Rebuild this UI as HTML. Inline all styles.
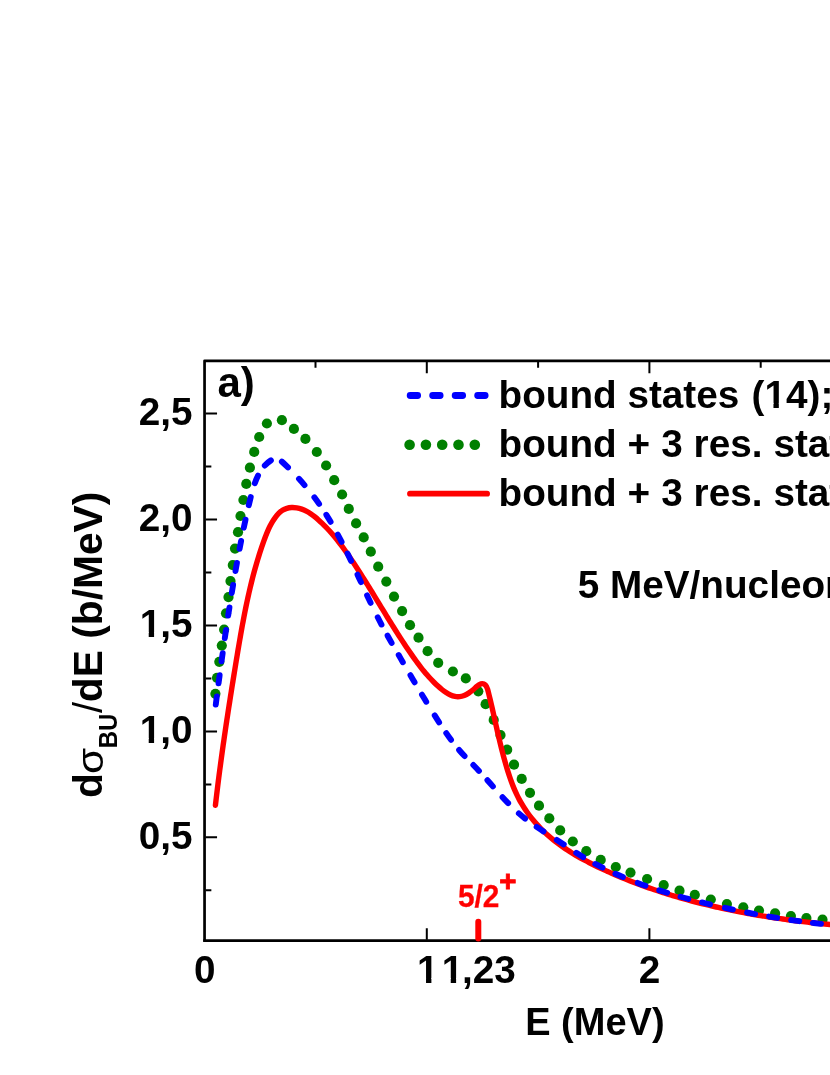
<!DOCTYPE html>
<html><head><meta charset="utf-8"><title>chart</title>
<style>html,body{margin:0;padding:0;background:#fff;}body{width:830px;height:1075px;overflow:hidden;font-family:"Liberation Sans",sans-serif;}svg{display:block;}</style></head>
<body>
<svg width="830" height="1075" viewBox="0 0 830 1075">
<rect width="830" height="1075" fill="#fff"/>
<g fill="none" stroke-linecap="round" stroke-linejoin="round">
<g fill="#008000" stroke="none"><circle cx="215.4" cy="693.8" r="5.1"/><circle cx="217.0" cy="677.8" r="5.1"/><circle cx="219.3" cy="661.8" r="5.1"/><circle cx="221.8" cy="645.6" r="5.1"/><circle cx="224.1" cy="629.6" r="5.1"/><circle cx="226.0" cy="613.3" r="5.1"/><circle cx="228.5" cy="597.1" r="5.1"/><circle cx="230.5" cy="581.1" r="5.1"/><circle cx="232.8" cy="565.1" r="5.1"/><circle cx="235.0" cy="548.6" r="5.1"/><circle cx="238.0" cy="532.2" r="5.1"/><circle cx="240.5" cy="516.0" r="5.1"/><circle cx="243.4" cy="500.0" r="5.1"/><circle cx="246.3" cy="483.9" r="5.1"/><circle cx="249.9" cy="467.7" r="5.1"/><circle cx="254.2" cy="451.9" r="5.1"/><circle cx="259.2" cy="437.0" r="5.1"/><circle cx="266.9" cy="423.5" r="5.1"/><circle cx="281.9" cy="420.2" r="5.1"/><circle cx="293.9" cy="428.9" r="5.1"/><circle cx="305.4" cy="438.9" r="5.1"/><circle cx="316.8" cy="452.0" r="5.1"/><circle cx="326.1" cy="465.5" r="5.1"/><circle cx="334.2" cy="480.2" r="5.1"/><circle cx="342.1" cy="494.5" r="5.1"/><circle cx="348.8" cy="508.9" r="5.1"/><circle cx="356.1" cy="523.4" r="5.1"/><circle cx="363.7" cy="537.4" r="5.1"/><circle cx="370.8" cy="551.7" r="5.1"/><circle cx="378.2" cy="566.7" r="5.1"/><circle cx="386.3" cy="581.6" r="5.1"/><circle cx="394.0" cy="596.6" r="5.1"/><circle cx="402.1" cy="611.1" r="5.1"/><circle cx="410.0" cy="625.2" r="5.1"/><circle cx="418.5" cy="637.7" r="5.1"/><circle cx="427.6" cy="651.2" r="5.1"/><circle cx="438.2" cy="662.8" r="5.1"/><circle cx="452.9" cy="671.5" r="5.1"/><circle cx="465.8" cy="678.4" r="5.1"/><circle cx="478.3" cy="691.3" r="5.1"/><circle cx="485.6" cy="704.2" r="5.1"/><circle cx="493.7" cy="719.9" r="5.1"/><circle cx="500.5" cy="735.1" r="5.1"/><circle cx="507.2" cy="749.7" r="5.1"/><circle cx="514.0" cy="764.7" r="5.1"/><circle cx="521.7" cy="778.9" r="5.1"/><circle cx="530.0" cy="792.8" r="5.1"/><circle cx="539.0" cy="805.7" r="5.1"/><circle cx="549.3" cy="818.4" r="5.1"/><circle cx="560.2" cy="830.4" r="5.1"/><circle cx="572.8" cy="841.5" r="5.1"/><circle cx="586.3" cy="851.2" r="5.1"/><circle cx="600.7" cy="859.9" r="5.1"/><circle cx="615.8" cy="867.0" r="5.1"/><circle cx="630.5" cy="872.6" r="5.1"/><circle cx="647.1" cy="879.0" r="5.1"/><circle cx="663.7" cy="885.1" r="5.1"/><circle cx="679.5" cy="890.7" r="5.1"/><circle cx="694.8" cy="894.8" r="5.1"/><circle cx="710.8" cy="899.5" r="5.1"/><circle cx="726.9" cy="904.0" r="5.1"/><circle cx="743.3" cy="907.3" r="5.1"/><circle cx="759.0" cy="910.6" r="5.1"/><circle cx="775.1" cy="913.4" r="5.1"/><circle cx="790.9" cy="916.1" r="5.1"/><circle cx="806.4" cy="918.1" r="5.1"/><circle cx="822.5" cy="919.7" r="5.1"/></g>
<path d="M215.42,805.31 C215.61,803.64 215.81,801.98 216.00,800.32 C216.19,798.66 216.39,797.01 216.59,795.35 C216.78,793.69 216.98,792.03 217.19,790.37 C217.39,788.72 217.59,787.06 217.80,785.40 C218.00,783.75 218.21,782.09 218.42,780.43 C218.63,778.78 218.84,777.12 219.06,775.47 C219.27,773.81 219.48,772.16 219.70,770.51 C219.92,768.85 220.14,767.20 220.36,765.55 C220.58,763.89 220.80,762.24 221.03,760.59 C221.25,758.94 221.48,757.28 221.70,755.63 C221.93,753.98 222.16,752.33 222.39,750.68 C222.62,749.03 222.86,747.38 223.09,745.73 C223.32,744.08 223.56,742.43 223.80,740.78 C224.03,739.13 224.27,737.48 224.51,735.83 C224.75,734.18 224.99,732.53 225.24,730.88 C225.48,729.23 225.72,727.58 225.97,725.93 C226.21,724.29 226.46,722.64 226.71,720.99 C226.96,719.34 227.21,717.69 227.46,716.05 C227.71,714.40 227.96,712.75 228.21,711.10 C228.47,709.45 228.72,707.81 228.98,706.16 C229.23,704.51 229.49,702.86 229.75,701.22 C230.00,699.57 230.26,697.92 230.52,696.28 C230.78,694.63 231.04,692.98 231.31,691.33 C231.57,689.69 231.83,688.04 232.09,686.39 C232.36,684.74 232.62,683.10 232.89,681.45 C233.15,679.80 233.42,678.15 233.69,676.51 C233.96,674.86 234.22,673.21 234.49,671.56 C234.76,669.92 235.03,668.27 235.30,666.62 C235.57,664.97 235.84,663.33 236.11,661.68 C236.39,660.03 236.66,658.38 236.93,656.73 C237.20,655.08 237.48,653.43 237.75,651.79 C238.03,650.14 238.30,648.49 238.58,646.84 C238.86,645.19 239.14,643.54 239.42,641.90 C239.71,640.25 239.99,638.60 240.28,636.95 C240.56,635.31 240.85,633.66 241.15,632.02 C241.44,630.37 241.73,628.72 242.03,627.08 C242.33,625.44 242.64,623.79 242.94,622.15 C243.25,620.51 243.56,618.87 243.88,617.23 C244.19,615.59 244.51,613.95 244.84,612.31 C245.16,610.67 245.49,609.03 245.82,607.40 C246.16,605.76 246.50,604.13 246.84,602.50 C247.19,600.86 247.54,599.23 247.90,597.60 C248.26,595.98 248.62,594.35 248.99,592.72 C249.36,591.10 249.74,589.47 250.12,587.85 C250.51,586.23 250.90,584.61 251.30,582.99 C251.70,581.38 252.10,579.76 252.52,578.15 C252.93,576.54 253.35,574.93 253.79,573.32 C254.22,571.71 254.66,570.11 255.10,568.50 C255.55,566.90 256.01,565.30 256.48,563.70 C256.94,562.10 257.42,560.51 257.90,558.92 C258.39,557.33 258.88,555.74 259.39,554.15 C259.89,552.57 260.41,550.98 260.94,549.41 C261.46,547.83 262.00,546.25 262.55,544.68 C263.10,543.11 263.65,541.54 264.22,539.97 C264.80,538.41 265.38,536.84 265.99,535.29 C266.59,533.73 267.23,532.19 267.90,530.65 C268.57,529.12 269.28,527.59 270.04,526.08 C270.81,524.58 271.62,523.08 272.50,521.61 C273.38,520.14 274.33,518.68 275.35,517.31 C276.37,515.93 277.47,514.62 278.65,513.44 C279.83,512.27 281.10,511.22 282.46,510.35 C283.82,509.48 285.28,508.80 286.83,508.33 C288.39,507.87 290.03,507.62 291.70,507.55 C293.37,507.48 295.07,507.59 296.76,507.86 C298.44,508.13 300.10,508.54 301.69,509.09 C303.29,509.63 304.82,510.30 306.30,511.07 C307.78,511.84 309.21,512.71 310.60,513.64 C311.99,514.58 313.33,515.59 314.64,516.65 C315.95,517.71 317.23,518.81 318.48,519.92 C319.74,521.04 320.97,522.18 322.17,523.34 C323.38,524.50 324.56,525.68 325.72,526.87 C326.88,528.07 328.02,529.28 329.14,530.51 C330.26,531.74 331.36,532.99 332.45,534.25 C333.53,535.51 334.60,536.78 335.64,538.07 C336.69,539.36 337.73,540.66 338.75,541.97 C339.77,543.28 340.77,544.61 341.76,545.94 C342.76,547.28 343.74,548.62 344.71,549.98 C345.68,551.33 346.64,552.69 347.59,554.06 C348.54,555.43 349.48,556.80 350.42,558.19 C351.35,559.57 352.28,560.96 353.20,562.35 C354.12,563.74 355.04,565.13 355.95,566.53 C356.87,567.93 357.78,569.34 358.68,570.74 C359.58,572.15 360.48,573.56 361.38,574.97 C362.27,576.39 363.17,577.80 364.06,579.22 C364.95,580.64 365.83,582.06 366.71,583.48 C367.60,584.90 368.48,586.33 369.36,587.75 C370.24,589.18 371.11,590.60 371.99,592.03 C372.86,593.46 373.74,594.89 374.61,596.32 C375.48,597.75 376.35,599.18 377.22,600.61 C378.09,602.04 378.96,603.47 379.83,604.90 C380.70,606.33 381.58,607.75 382.45,609.18 C383.32,610.61 384.19,612.04 385.06,613.46 C385.93,614.89 386.81,616.31 387.68,617.74 C388.56,619.16 389.43,620.58 390.31,622.00 C391.19,623.42 392.07,624.83 392.96,626.24 C393.84,627.66 394.73,629.07 395.62,630.48 C396.51,631.88 397.40,633.29 398.30,634.69 C399.19,636.09 400.10,637.48 401.00,638.88 C401.90,640.27 402.81,641.66 403.73,643.04 C404.64,644.42 405.56,645.80 406.48,647.17 C407.41,648.55 408.34,649.92 409.27,651.28 C410.21,652.64 411.15,654.00 412.10,655.35 C413.04,656.70 414.00,658.05 414.96,659.38 C415.92,660.72 416.89,662.05 417.87,663.38 C418.86,664.70 419.85,666.02 420.87,667.32 C421.88,668.63 422.91,669.92 423.97,671.21 C425.02,672.49 426.10,673.77 427.20,675.03 C428.30,676.29 429.43,677.55 430.58,678.78 C431.74,680.02 432.93,681.25 434.15,682.46 C435.37,683.67 436.63,684.86 437.92,686.05 C439.22,687.23 440.55,688.40 441.92,689.51 C443.29,690.62 444.69,691.66 446.12,692.60 C447.55,693.54 449.01,694.36 450.49,695.02 C451.97,695.69 453.47,696.18 454.98,696.47 C456.50,696.75 458.03,696.81 459.57,696.63 C461.11,696.44 462.65,696.02 464.17,695.42 C465.69,694.82 467.19,694.04 468.64,693.12 C470.10,692.21 471.50,691.16 472.84,690.04 C474.17,688.91 475.39,687.67 476.66,686.52 C477.93,685.37 479.36,684.30 480.95,683.83 C482.54,683.37 484.19,683.82 485.36,684.94 C486.53,686.05 487.14,687.65 487.60,689.32 C488.07,690.99 488.47,692.68 488.89,694.33 C489.30,695.99 489.70,697.63 490.10,699.26 C490.49,700.89 490.88,702.51 491.25,704.13 C491.63,705.74 492.00,707.35 492.37,708.96 C492.74,710.57 493.10,712.17 493.46,713.78 C493.83,715.39 494.19,717.01 494.55,718.63 C494.91,720.25 495.28,721.87 495.64,723.50 C496.01,725.12 496.37,726.75 496.74,728.39 C497.11,730.02 497.49,731.66 497.86,733.29 C498.24,734.93 498.62,736.56 499.00,738.20 C499.39,739.84 499.78,741.48 500.17,743.11 C500.57,744.75 500.97,746.38 501.38,748.01 C501.78,749.64 502.20,751.27 502.62,752.90 C503.04,754.53 503.47,756.15 503.91,757.77 C504.35,759.38 504.80,760.99 505.26,762.60 C505.72,764.21 506.19,765.81 506.67,767.40 C507.15,768.99 507.64,770.58 508.14,772.16 C508.64,773.74 509.16,775.31 509.69,776.87 C510.22,778.43 510.76,779.98 511.33,781.52 C511.89,783.06 512.47,784.60 513.08,786.12 C513.69,787.64 514.32,789.16 514.98,790.67 C515.64,792.17 516.33,793.67 517.05,795.16 C517.77,796.65 518.52,798.13 519.31,799.60 C520.10,801.07 520.93,802.53 521.79,803.98 C522.65,805.43 523.55,806.86 524.47,808.28 C525.40,809.71 526.35,811.11 527.34,812.50 C528.32,813.89 529.33,815.26 530.37,816.61 C531.41,817.96 532.48,819.28 533.56,820.59 C534.65,821.89 535.76,823.18 536.89,824.43 C538.02,825.68 539.17,826.91 540.34,828.12 C541.51,829.32 542.70,830.50 543.91,831.65 C545.12,832.81 546.34,833.94 547.58,835.04 C548.83,836.15 550.09,837.23 551.36,838.30 C552.64,839.36 553.93,840.40 555.24,841.42 C556.55,842.44 557.87,843.44 559.21,844.42 C560.55,845.40 561.90,846.36 563.26,847.30 C564.63,848.25 566.00,849.17 567.39,850.08 C568.78,850.98 570.18,851.87 571.59,852.74 C573.01,853.62 574.43,854.47 575.86,855.32 C577.29,856.16 578.74,856.98 580.19,857.80 C581.64,858.61 583.10,859.41 584.57,860.20 C586.04,860.98 587.51,861.76 588.99,862.52 C590.48,863.28 591.97,864.03 593.46,864.77 C594.96,865.51 596.46,866.24 597.96,866.96 C599.47,867.68 600.98,868.39 602.49,869.10 C604.00,869.80 605.52,870.49 607.04,871.18 C608.56,871.87 610.08,872.54 611.61,873.21 C613.14,873.88 614.67,874.55 616.20,875.20 C617.74,875.86 619.27,876.50 620.81,877.14 C622.35,877.78 623.89,878.41 625.44,879.04 C626.99,879.66 628.54,880.28 630.09,880.89 C631.64,881.49 633.19,882.09 634.75,882.69 C636.31,883.28 637.87,883.87 639.43,884.45 C641.00,885.03 642.56,885.60 644.13,886.16 C645.70,886.73 647.27,887.28 648.85,887.83 C650.42,888.38 652.00,888.93 653.58,889.46 C655.16,890.00 656.74,890.53 658.32,891.05 C659.91,891.57 661.49,892.08 663.08,892.59 C664.67,893.10 666.26,893.60 667.86,894.10 C669.45,894.59 671.05,895.08 672.65,895.56 C674.25,896.04 675.85,896.51 677.45,896.98 C679.05,897.45 680.66,897.91 682.26,898.37 C683.87,898.82 685.48,899.27 687.09,899.71 C688.70,900.15 690.31,900.59 691.93,901.02 C693.54,901.45 695.16,901.87 696.78,902.29 C698.39,902.70 700.01,903.11 701.64,903.52 C703.26,903.92 704.88,904.32 706.51,904.72 C708.13,905.11 709.76,905.50 711.38,905.88 C713.01,906.26 714.64,906.63 716.27,907.00 C717.90,907.37 719.54,907.73 721.17,908.09 C722.80,908.45 724.44,908.80 726.08,909.15 C727.71,909.50 729.35,909.84 730.99,910.17 C732.63,910.51 734.27,910.84 735.91,911.16 C737.55,911.49 739.19,911.81 740.83,912.12 C742.48,912.44 744.12,912.75 745.77,913.05 C747.41,913.35 749.06,913.65 750.70,913.95 C752.35,914.24 754.00,914.53 755.65,914.81 C757.30,915.09 758.94,915.37 760.59,915.65 C762.24,915.92 763.89,916.19 765.55,916.45 C767.20,916.72 768.85,916.98 770.50,917.23 C772.15,917.49 773.80,917.74 775.46,917.98 C777.11,918.23 778.76,918.47 780.42,918.70 C782.07,918.94 783.73,919.17 785.38,919.40 C787.03,919.63 788.69,919.85 790.34,920.07 C792.00,920.29 793.65,920.50 795.31,920.71 C796.96,920.92 798.62,921.13 800.27,921.33 C801.93,921.53 803.58,921.73 805.24,921.92 C806.89,922.12 808.55,922.31 810.20,922.49 C811.86,922.68 813.51,922.86 815.16,923.04 C816.82,923.22 818.47,923.39 820.13,923.56 C821.78,923.74 823.43,923.90 825.09,924.07 C826.74,924.23 828.39,924.39 830.04,924.55 C831.69,924.70 833.34,924.86 835.00,925.01" stroke="#ff0000" stroke-width="5.4"/>
<g stroke="#0000ff" stroke-width="5.9"><path d="M215.77,704.52 C216.12,701.84 216.47,699.15 216.82,696.46"/><path d="M218.55,683.39 C218.91,680.69 219.27,677.98 219.63,675.28"/><path d="M221.53,661.34 C221.91,658.63 222.29,655.92 222.67,653.20"/><path d="M224.81,638.17 C225.21,635.45 225.60,632.73 226.01,630.01"/><path d="M228.17,615.64 C228.59,612.93 229.01,610.22 229.44,607.51"/><path d="M231.75,593.10 C232.19,590.40 232.64,587.71 233.09,585.02"/><path d="M235.50,571.00 C235.97,568.33 236.45,565.66 236.93,563.00"/><path d="M239.57,548.85 C240.08,546.20 240.59,543.54 241.12,540.88"/><path d="M243.81,527.71 C244.37,525.03 244.95,522.35 245.53,519.66"/><path d="M248.79,505.23 C249.43,502.50 250.08,499.75 250.76,497.00"/><path d="M254.80,483.17 C255.74,480.56 256.80,478.03 258.02,475.61"/><path d="M264.80,465.59 C266.60,463.63 268.68,461.74 270.90,460.38"/><path d="M281.87,461.62 C283.95,463.34 285.99,465.42 288.01,467.42"/><path d="M298.98,478.83 C300.87,480.91 302.71,482.98 304.50,485.07"/><path d="M314.35,497.33 C315.97,499.49 317.56,501.67 319.10,503.89"/><path d="M326.35,514.84 C327.80,517.15 329.22,519.48 330.61,521.83"/><path d="M337.78,534.53 C339.08,536.95 340.37,539.38 341.63,541.82"/><path d="M347.49,553.49 C348.70,555.96 349.89,558.43 351.07,560.90"/><path d="M357.51,574.68 C358.66,577.16 359.80,579.64 360.95,582.12"/><path d="M367.12,595.43 C368.27,597.90 369.44,600.37 370.61,602.83"/><path d="M377.72,617.26 C378.96,619.70 380.22,622.12 381.50,624.53"/><path d="M387.59,635.69 C388.93,638.08 390.27,640.47 391.63,642.84"/><path d="M398.70,655.10 C400.08,657.46 401.45,659.83 402.83,662.19"/><path d="M410.44,675.22 C411.82,677.58 413.20,679.93 414.59,682.28"/><path d="M421.99,694.70 C423.40,697.04 424.81,699.37 426.23,701.70"/><path d="M434.72,715.41 C436.17,717.73 437.64,720.04 439.12,722.34"/><path d="M446.27,733.12 C447.83,735.38 449.41,737.61 451.03,739.80"/><path d="M459.10,750.00 C460.87,752.07 462.70,754.09 464.57,756.06"/><path d="M473.31,764.99 C475.22,766.93 477.12,768.90 478.99,770.90"/><path d="M487.42,780.20 C489.24,782.26 491.05,784.32 492.87,786.38"/><path d="M502.53,797.18 C504.39,799.20 506.26,801.19 508.16,803.15"/><path d="M518.85,813.39 C520.90,815.18 522.99,816.92 525.13,818.59"/><path d="M536.63,826.91 C538.90,828.44 541.19,829.95 543.49,831.44"/><path d="M556.85,839.97 C559.16,841.45 561.46,842.96 563.74,844.48"/><path d="M576.24,852.76 C578.53,854.24 580.84,855.70 583.18,857.11"/><path d="M595.25,863.97 C597.65,865.26 600.08,866.51 602.52,867.73"/><path d="M615.38,873.79 C617.87,874.90 620.38,875.98 622.90,877.04"/><path d="M637.72,882.89 C640.29,883.85 642.86,884.78 645.44,885.69"/><path d="M659.25,890.34 C661.85,891.18 664.46,892.00 667.08,892.80"/><path d="M680.49,896.73 C683.12,897.47 685.76,898.20 688.40,898.91"/><path d="M702.05,902.45 C704.71,903.11 707.36,903.77 710.02,904.41"/><path d="M724.92,907.86 C727.59,908.46 730.25,909.04 732.92,909.61"/><path d="M747.06,912.52 C749.74,913.05 752.42,913.56 755.10,914.07"/><path d="M769.10,916.58 C771.79,917.04 774.49,917.48 777.18,917.92"/><path d="M791.16,920.06 C793.87,920.45 796.58,920.83 799.29,921.20"/><path d="M812.82,922.92 C815.54,923.24 818.26,923.55 820.99,923.85"/></g>
</g>
<g stroke="#000" fill="none">
<path d="M204.55,941.85 V360.85 H835" stroke-width="2.7" stroke-linejoin="round"/>
<path d="M203.25,940.65 H835" stroke-width="2.6"/>
<path d="M205.55,890.3 h5.8 M205.55,837.3 h11.5 M205.55,784.4 h5.8 M205.55,731.4 h11.5 M205.55,678.4 h5.8 M205.55,625.4 h11.5 M205.55,572.5 h5.8 M205.55,519.5 h11.5 M205.55,466.5 h5.8 M205.55,413.5 h11.5 M315.5,361.85 v5.8 M426.8,361.85 v11.5 M538.1,361.85 v5.8 M649.4,361.85 v11.5 M760.7,361.85 v5.8 M426.8,939.65 v-11.5 M649.4,939.65 v-11.5" stroke-width="2"/>
</g>
<path d="M478.3,938.6 V921.8" stroke="#ff0000" stroke-width="6" stroke-linecap="round" fill="none"/>
<g fill="none" stroke-linecap="round">
<path d="M410.2,395.5 H485.6" stroke="#0000ff" stroke-width="6.9" stroke-dasharray="7.4 15.1"/>
<g fill="#008000"><circle cx="409.6" cy="444.7" r="5.3"/><circle cx="425.9" cy="444.7" r="5.3"/><circle cx="442.2" cy="444.7" r="5.3"/><circle cx="458.5" cy="444.7" r="5.3"/><circle cx="474.8" cy="444.7" r="5.3"/></g>
<path d="M410,493.7 H487.1" stroke="#ff0000" stroke-width="5.8"/>
</g>
<g font-family="'Liberation Sans', sans-serif" font-weight="bold" fill="#000" style="font-kerning:none" opacity="0.999">
<g font-size="38.7">
<text x="498.5" y="407.6">bound states<tspan dx="1.6"> (14);</tspan></text>
<text x="498.5" y="456.6" word-spacing="0.2">bound + 3 res. states</text>
<text x="498.5" y="505.7" word-spacing="0.2">bound + 3 res. states</text>
<text x="577.8" y="597.6">5 MeV/nucleon</text>
<text x="138.82" y="425.0">2,5</text>
<text x="138.82" y="531.0">2,0</text>
<text x="138.82" y="636.9"><tspan dx="0.9">1</tspan><tspan dx="-0.9">,5</tspan></text>
<text x="138.82" y="742.9"><tspan dx="0.9">1</tspan><tspan dx="-0.9">,0</tspan></text>
<text x="138.82" y="848.8">0,5</text>
<text x="204.65" y="982.7" text-anchor="middle">0</text>
<text x="427.8" y="982.7" text-anchor="middle">1</text>
<text x="649.5" y="982.7" text-anchor="middle">2</text>
<text x="440.5" y="982.7"><tspan dx="1.2">1</tspan><tspan dx="-1.2">,23</tspan></text>
<text x="525.2" y="1035.2" font-size="38">E (MeV)</text>
</g>
<text x="217.5" y="397.45" font-size="42">a)</text>
<text transform="translate(457.95,906.5) scale(1,1.035)" font-size="29.8" fill="#ff0000" stroke="#ff0000" stroke-width="0.3">5/2</text>
<text x="499.2" y="890.6" font-size="29.5" fill="#ff0000" stroke="#ff0000" stroke-width="0.8">+</text>
<text transform="translate(102.2,797.9) rotate(-90)" font-size="40.85">d</text>
<text transform="translate(103.2,774.1) rotate(-90) scale(1,0.875)" font-size="42.5" font-weight="normal">σ</text>
<text transform="translate(117.3,748.3) rotate(-90) scale(1,1.1)" font-size="24">BU</text>
<text transform="translate(102.4,712.9) rotate(-90)" font-size="40" font-weight="normal">/</text>
<text transform="translate(102.2,702.2) rotate(-90)" font-size="40.75">dE (b/MeV)</text>
</g>
<g fill="#fff"><rect x="765.66" y="402.90" width="7.8" height="5.6"/><rect x="778.82" y="402.90" width="7.0" height="5.6"/><rect x="140.92" y="632.25" width="7.8" height="5.6"/><rect x="154.08" y="632.25" width="7.0" height="5.6"/><rect x="140.92" y="738.20" width="7.8" height="5.6"/><rect x="154.08" y="738.20" width="7.0" height="5.6"/><rect x="418.23" y="978.00" width="7.8" height="5.6"/><rect x="431.39" y="978.00" width="7.0" height="5.6"/><rect x="442.94" y="978.00" width="7.8" height="5.6"/><rect x="456.10" y="978.00" width="7.0" height="5.6"/></g>
</svg>
</body></html>
